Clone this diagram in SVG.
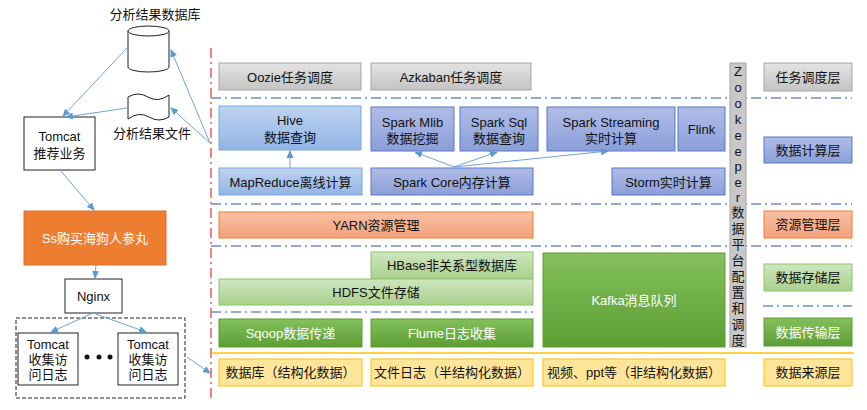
<svg xmlns="http://www.w3.org/2000/svg" width="867" height="410" viewBox="0 0 867 410">
<style>
text{font-family:"Liberation Sans","Noto Sans CJK SC",sans-serif;font-size:13px;fill:#111;text-anchor:middle;dominant-baseline:central}
.w{fill:#fff}
.gray{fill:url(#gGray);stroke:#a6a6a6}
.hive{fill:url(#gHive);stroke:#7aa7de}
.spark{fill:url(#gSpark);stroke:#5b78c6}
.org{fill:url(#gOrg);stroke:#ed7d31}
.lg{fill:url(#gLg);stroke:#8fc46d}
.dg{fill:url(#gDg);stroke:#5c9e35}
.yl{fill:#ffe59a;stroke:#ffc000}
.plain{fill:#fff;stroke:#222;stroke-width:1}
.sep{stroke:#6f8fd0;stroke-width:1.5;stroke-dasharray:10 4 2 4;fill:none}
.conn{stroke:#6fa3dc;stroke-width:1;fill:none;marker-end:url(#ah)}
</style>
<defs>
<linearGradient id="gGray" x1="0" y1="0" x2="0" y2="1"><stop offset="0" stop-color="#e3e3e3"/><stop offset="1" stop-color="#c4c4c4"/></linearGradient>
<linearGradient id="gHive" x1="0" y1="0" x2="0" y2="1"><stop offset="0" stop-color="#bed3f0"/><stop offset="1" stop-color="#92b5e6"/></linearGradient>
<linearGradient id="gSpark" x1="0" y1="0" x2="0" y2="1"><stop offset="0" stop-color="#b0bde8"/><stop offset="1" stop-color="#8a9ed8"/></linearGradient>
<linearGradient id="gOrg" x1="0" y1="0" x2="0" y2="1"><stop offset="0" stop-color="#f8c0a4"/><stop offset="1" stop-color="#f3a17a"/></linearGradient>
<linearGradient id="gLg" x1="0" y1="0" x2="0" y2="1"><stop offset="0" stop-color="#cfe6c0"/><stop offset="1" stop-color="#a8d08c"/></linearGradient>
<linearGradient id="gDg" x1="0" y1="0" x2="0" y2="1"><stop offset="0" stop-color="#84c05c"/><stop offset="1" stop-color="#5d9e33"/></linearGradient>
<marker id="ah" markerWidth="8" markerHeight="8" refX="7" refY="4" orient="auto" markerUnits="userSpaceOnUse"><path d="M0,0.5 L8,4 L0,7.5 z" fill="#5b9bd5"/></marker>
</defs>
<rect width="867" height="410" fill="#fff"/>

<g id="separators">
<line x1="211" y1="48" x2="211" y2="398" stroke="#f05a5a" stroke-width="1.5" stroke-dasharray="10 4 2 4"/>
<line class="sep" x1="211" y1="98" x2="852" y2="98"/>
<line class="sep" x1="211" y1="204" x2="852" y2="204"/>
<line class="sep" x1="211" y1="246" x2="852" y2="246"/>
<line class="sep" x1="211" y1="312" x2="533" y2="312"/>
<line class="sep" x1="763" y1="306" x2="852" y2="306"/>
<line x1="211" y1="353" x2="854" y2="353" stroke="#ffc000" stroke-width="1.5"/>
</g>

<g id="db"><path d="M128,31 v36 a20.5,5 0 0 0 41,0 v-36" fill="#fff" stroke="#222"/><ellipse cx="148.5" cy="31" rx="20.5" ry="5" fill="#fff" stroke="#222"/><text x="155" y="14">分析结果数据库</text></g>
<g id="file"><path d="M128,97 q10,-6 20,0 t21,-2 v22 q-10,6 -20,0 t-21,2 z" fill="#fff" stroke="#222"/><text x="152" y="133">分析结果文件</text></g>
<g id="tomcatRec"><rect class="plain" x="24" y="117" width="71" height="53"/><text x="59.5" y="136">Tomcat</text><text x="59.5" y="153">推荐业务</text></g>
<g id="shop"><rect x="24" y="211" width="142" height="54" fill="#ed7d31" stroke="#e0702a"/><text class="w" x="95" y="238">Ss购买海狗人参丸</text></g>
<g id="nginx"><rect class="plain" x="65" y="279" width="57" height="34"/><text x="93.5" y="296">Nginx</text></g>
<g id="collectors"><rect x="16" y="318" width="169" height="80" fill="none" stroke="#222" stroke-dasharray="4 2"/>
<rect class="plain" x="18" y="333" width="60" height="52"/><text x="48" y="344">Tomcat</text><text x="48" y="359">收集访</text><text x="48" y="374">问日志</text>
<rect class="plain" x="118" y="333" width="60" height="52"/><text x="148" y="344">Tomcat</text><text x="148" y="359">收集访</text><text x="148" y="374">问日志</text>
<circle cx="87" cy="357" r="2.5" fill="#111"/><circle cx="99" cy="357" r="2.5" fill="#111"/><circle cx="110" cy="357" r="2.5" fill="#111"/></g>

<g id="oozie"><rect class="gray" x="219" y="63" width="142" height="27"/><text x="290" y="77">Oozie任务调度</text></g>
<g id="azkaban"><rect class="gray" x="371" y="63" width="160" height="27"/><text x="451" y="77">Azkaban任务调度</text></g>
<g id="hive"><rect class="hive" x="219" y="106" width="142" height="44"/><text x="290" y="120">Hive</text><text x="290" y="137">数据查询</text></g>
<g id="mlib"><rect class="spark" x="371" y="107" width="83" height="44"/><text x="412.5" y="122">Spark Mlib</text><text x="412.5" y="138">数据挖掘</text></g>
<g id="sql"><rect class="spark" x="460" y="107" width="78" height="44"/><text x="499" y="122">Spark Sql</text><text x="499" y="138">数据查询</text></g>
<g id="streaming"><rect class="spark" x="547" y="107" width="128" height="44"/><text x="611" y="122">Spark Streaming</text><text x="611" y="138">实时计算</text></g>
<g id="flink"><rect class="spark" x="678" y="107" width="47" height="44"/><text x="701.5" y="129">Flink</text></g>
<g id="mapreduce"><rect class="hive" x="219" y="168" width="143" height="27"/><text x="290.5" y="182">MapReduce离线计算</text></g>
<g id="sparkcore"><rect class="spark" x="371" y="168" width="162" height="27"/><text x="452" y="182">Spark Core内存计算</text></g>
<g id="storm"><rect class="spark" x="612" y="168" width="113" height="27"/><text x="668.5" y="182">Storm实时计算</text></g>
<g id="yarn"><rect class="org" x="219" y="212" width="314" height="26"/><text x="376" y="225">YARN资源管理</text></g>
<g id="hbase"><rect class="lg" x="371" y="252" width="162" height="27"/><text x="452" y="265.5">HBase非关系型数据库</text></g>
<g id="hdfs"><rect class="lg" x="219" y="279" width="314" height="26"/><text x="376" y="292">HDFS文件存储</text></g>
<g id="kafka"><rect class="dg" x="543" y="253" width="182" height="94"/><text class="w" x="634" y="300">Kafka消息队列</text></g>
<g id="sqoop"><rect class="dg" x="219" y="319" width="143" height="28"/><text class="w" x="290.5" y="333">Sqoop数据传递</text></g>
<g id="flume"><rect class="dg" x="371" y="319" width="162" height="28"/><text class="w" x="452" y="333">Flume日志收集</text></g>
<g id="src1"><rect class="yl" x="219" y="359" width="143" height="27"/><text x="290.5" y="372.5">数据库（结构化数据）</text></g>
<g id="src2"><rect class="yl" x="371" y="359" width="162" height="27"/><text x="452" y="372.5">文件日志（半结构化数据）</text></g>
<g id="src3"><rect class="yl" x="543" y="359" width="182" height="27"/><text x="634" y="372.5">视频、ppt等（非结构化数据）</text></g>

<g id="zookeeper"><rect x="730" y="63" width="16" height="284" fill="#c8c8c8" stroke="#a6a6a6"/>
<g font-size="13">
<text x="738" y="71">Z</text><text x="738" y="87">o</text><text x="738" y="103">o</text><text x="738" y="119">k</text><text x="738" y="135">e</text><text x="738" y="151">e</text><text x="738" y="166">p</text><text x="738" y="182">e</text><text x="738" y="197">r</text>
<text x="738" y="212">数</text><text x="738" y="228">据</text><text x="738" y="244">平</text><text x="738" y="260">台</text><text x="738" y="276">配</text><text x="738" y="292">置</text><text x="738" y="308">和</text><text x="738" y="324">调</text><text x="738" y="340">度</text></g></g>

<g id="L1"><rect class="gray" x="764" y="63" width="88" height="28"/><text x="808" y="77">任务调度层</text></g>
<g id="L2"><rect class="spark" x="764" y="137" width="88" height="26"/><text x="808" y="150">数据计算层</text></g>
<g id="L3"><rect class="org" x="764" y="211" width="88" height="27"/><text x="808" y="224.5">资源管理层</text></g>
<g id="L4"><rect class="lg" x="764" y="264" width="88" height="27"/><text x="808" y="277.5">数据存储层</text></g>
<g id="L5"><rect class="dg" x="764" y="318" width="88" height="28"/><text class="w" x="808" y="332">数据传输层</text></g>
<g id="L6"><rect class="yl" x="764" y="359" width="88" height="27"/><text x="808" y="372.5">数据来源层</text></g>

<g id="connectors">
<line class="conn" x1="127" y1="48" x2="63" y2="116"/>
<line class="conn" x1="127" y1="108" x2="66" y2="117"/>
<line class="conn" x1="210" y1="143" x2="171" y2="50"/>
<line class="conn" x1="210" y1="143" x2="171" y2="108"/>
<line class="conn" x1="60" y1="170" x2="94" y2="210"/>
<line class="conn" x1="96" y1="265" x2="95" y2="278"/>
<line class="conn" x1="93" y1="313" x2="51" y2="332"/>
<line class="conn" x1="93" y1="313" x2="146" y2="332"/>
<line class="conn" x1="187" y1="357" x2="210" y2="373"/>
<line class="conn" x1="290" y1="168" x2="290" y2="151"/>
<line class="conn" x1="454" y1="167" x2="415" y2="152"/>
<line class="conn" x1="454" y1="167" x2="497" y2="152"/>
<line class="conn" x1="454" y1="167" x2="608" y2="151"/>
</g>
</svg>
